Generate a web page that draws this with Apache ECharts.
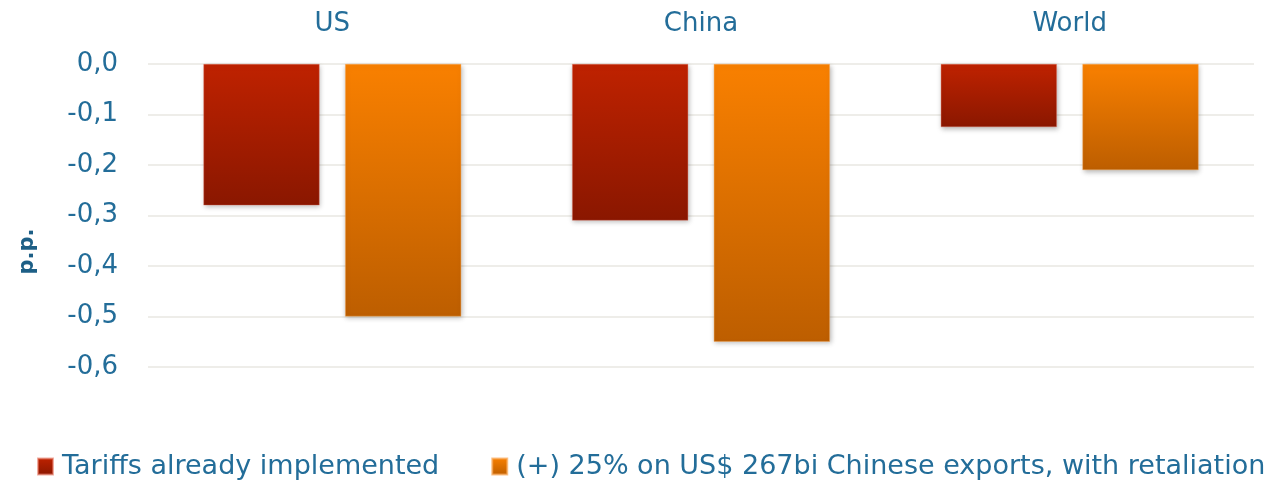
<!DOCTYPE html>
<html>
<head>
<meta charset="utf-8">
<script src="https://cdn.jsdelivr.net/npm/echarts@6/dist/echarts.min.js"></script>
<style>
  html, body { margin: 0; padding: 0; background: #fff; }
  #chart { width: 1272px; height: 483px; }
</style>
</head>
<body>
<div id="chart"></div>
<script>
// Regions shown along the top axis
const categories = ['US', 'China', 'World'];
// GDP impact, percentage points
const tariffsImplemented = [-0.28, -0.31, -0.125];
const withRetaliation = [-0.50, -0.55, -0.21];
const seriesNames = [
  'Tariffs already implemented',
  '(+) 25% on US$ 267bi Chinese exports, with retaliation'
];
const yTicks = { min: -0.6, max: 0, interval: 0.1 };

const textColor = '#236d99';
const fontFamily = 'DejaVu Sans';

function grad(top, bottom) {
  return new echarts.graphic.LinearGradient(0, 0, 0, 1, [
    { offset: 0, color: top },
    { offset: 1, color: bottom }
  ]);
}

const barShadow = {
  shadowBlur: 5,
  shadowOffsetX: 1,
  shadowOffsetY: 2,
  shadowColor: 'rgba(0,0,0,0.28)'
};

const chart = echarts.init(document.getElementById('chart'), null, { renderer: 'canvas' });
chart.setOption({
  animation: false,
  backgroundColor: '#ffffff',
  textStyle: { fontFamily: fontFamily, color: textColor },
  grid: { left: 148, right: 18, top: 64, bottom: 116 },
  legend: {
    top: 453,
    left: 37,
    width: 1234,
    padding: 0,
    itemWidth: 15,
    itemHeight: 16,
    itemGap: 52,
    icon: 'rect',
    textStyle: { fontFamily: fontFamily, fontSize: 27, color: textColor, padding: [0, 0, 0, 4] },
    data: seriesNames
  },
  xAxis: {
    type: 'category',
    position: 'top',
    data: categories,
    axisLine: { show: false },
    axisTick: { show: false },
    axisLabel: { fontFamily: fontFamily, fontSize: 26, color: textColor, margin: 27 }
  },
  yAxis: {
    type: 'value',
    min: yTicks.min,
    max: yTicks.max,
    interval: yTicks.interval,
    name: 'p.p.',
    nameLocation: 'middle',
    nameGap: 110,
    nameRotate: 90,
    nameTextStyle: {
      fontFamily: fontFamily, fontSize: 21, fontWeight: 'bold', color: '#1d5f86',
      padding: [0, 72, 0, 0]
    },
    axisLine: { show: false },
    axisTick: { show: false },
    splitLine: { lineStyle: { color: '#e9e7e2', width: 1.5 } },
    axisLabel: {
      fontFamily: fontFamily,
      fontSize: 26,
      color: textColor,
      margin: 30,
      formatter: v => v.toFixed(1).replace('-0.0', '0.0').replace('.', ',')
    }
  },
  series: [
    {
      name: seriesNames[0],
      type: 'bar',
      data: tariffsImplemented,
      barWidth: '31.5%',
      barGap: '22%',
      itemStyle: Object.assign({
        color: grad('#bf2200', '#8a1700'),
        borderColor: 'rgba(230,120,100,0.6)',
        borderWidth: 0.6
      }, barShadow)
    },
    {
      name: seriesNames[1],
      type: 'bar',
      data: withRetaliation,
      barWidth: '31.5%',
      barGap: '22%',
      itemStyle: Object.assign({
        color: grad('#f98000', '#bd5e00'),
        borderColor: 'rgba(250,170,90,0.7)',
        borderWidth: 0.6
      }, barShadow)
    }
  ]
});
</script>
</body>
</html>
